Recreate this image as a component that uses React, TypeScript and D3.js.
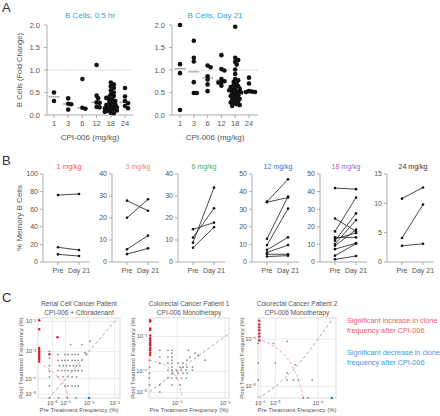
import React from "react";
import * as d3 from "d3";

const FONT = "'Liberation Sans', Arial, Helvetica, sans-serif";
const TEXT = "#555";
const AXIS = "#9a9a9a";

// ---------------- Panel A data ----------------
const doseLabels = ["1", "3", "6", "12", "18", "24"];
const aTitles = ["B Cells, 0.5 hr", "B Cells, Day 21"];
const aYTicks = [0, 0.5, 1.0, 1.5, 2.0];
const halfHrValues: number[][] = [
  [0.5, 0.31],
  [0.37, 0.25, 0.24, 0.12],
  [0.8, 0.14, 0.16],
  [1.11, 0.37, 0.43, 0.27, 0.28, 0.17, 0.18],
  [0.72, 0.68, 0.64, 0.6, 0.55, 0.5, 0.46, 0.42, 0.4, 0.38, 0.35, 0.33, 0.31, 0.28, 0.26, 0.24, 0.22, 0.2, 0.19, 0.17, 0.16, 0.15, 0.13, 0.12, 0.1, 0.09, 0.07, 0.05, 0.04],
  [0.6, 0.41, 0.31, 0.26, 0.2, 0.15],
];
const day21Values: number[][] = [
  [2.0, 1.13, 0.93, 0.11],
  [1.65, 1.27, 1.19, 0.73, 0.49, 0.49],
  [1.1, 1.06, 0.86, 0.79, 0.68, 0.53],
  [1.33, 1.02, 0.99, 0.8, 0.75, 0.73, 0.72, 0.65],
  [1.96, 1.27, 1.22, 1.18, 1.12, 1.01, 0.91, 0.8, 0.77, 0.74, 0.7, 0.67, 0.64, 0.62, 0.6, 0.58, 0.56, 0.55, 0.53, 0.52, 0.5, 0.48, 0.46, 0.44, 0.42, 0.4, 0.38, 0.36, 0.34, 0.32, 0.3, 0.28, 0.26, 0.24, 0.22, 0.2],
  [0.83, 0.7, 0.53, 0.51, 0.51, 0.52],
];

// ---------------- Panel B data ----------------
const bTitles = ["1 mg/kg", "3 mg/kg", "6 mg/kg", "12 mg/kg", "18 mg/kg", "24 mg/kg"];
const bColors = ["#f0506a", "#f58a55", "#3db34f", "#5165c8", "#ab5cc2", "#333333"];
const bYTicks: number[][] = [
  [0, 20, 40, 60, 80, 100],
  [0, 10, 20, 30, 40],
  [0, 10, 20, 30, 40],
  [0, 10, 20, 30, 40, 50],
  [0, 10, 20, 30, 40, 50],
  [0, 5, 10, 15],
];
const bTimepoints = ["Pre", "Day 21"];
const bPre: number[][] = [
  [76, 16.7, 8.7],
  [27.9, 20.1, 5.8, 3.6],
  [14.9, 11.1, 8.8, 6.5],
  [34.3, 34.0, 13.2, 9.6, 6.9, 5.4, 4.4, 3.1],
  [42, 24.7, 17.4, 14, 13.2, 12.1, 10.2, 9.2, 7.3, 3.6, 1.5],
  [10.8, 4.1, 2.76],
];
const bDay21: number[][] = [
  [77.3, 13.6, 6.8],
  [23.3, 28.5, 12, 6.2],
  [17.9, 24.4, 33.8, 15.8],
  [47, 36.6, 37.2, 30.3, 14, 9.6, 4.4, 3.6],
  [41.4, 17.4, 36.6, 14, 16.5, 27.6, 23.8, 18.4, 10.7, 10.4, 3.4],
  [12.7, 9.8, 3.1],
];

// ---------------- Panel C data ([pre, post] frequency, %) ----------------
const cTitles = [
  ["Renal Cell Cancer Patient", "CPI-006 + Ciforadenant"],
  ["Colorectal Cancer Patient 1", "CPI-006 Monotherapy"],
  ["Colorectal Cancer Patient 2", "CPI-006 Monotherapy"],
];
const cLegend = [
  ["Significant increase in clone", "frequency after CPI-006"],
  ["Significant decrease in clone", "frequency after CPI-006"],
];
type P = [number, number];
const renalStable: P[] = [
  [1e-6, 1.0e-3], [1e-6, 6e-4], [1e-6, 3.2e-4], [1e-6, 2e-4], [1e-6, 1.2e-4], [1e-6, 4.5e-5], [1e-6, 0],
  [3.6e-5, 7.9e-4], [9.2e-5, 7.9e-4], [1.3e-4, 7.9e-4], [2e-4, 7.9e-4], [2.7e-4, 7.9e-4], [3.6e-4, 7.9e-4],
  [3.6e-5, 4.9e-4], [6.4e-5, 4.9e-4], [9.2e-5, 4.9e-4], [1.3e-4, 4.9e-4], [2e-4, 4.9e-4], [2.7e-4, 4.9e-4], [3.6e-4, 4.9e-4], [5.2e-4, 4.9e-4],
  [4.5e-5, 3.2e-4], [7.5e-5, 3.2e-4], [1.1e-4, 3.2e-4], [1.6e-4, 3.2e-4], [2.3e-4, 3.2e-4], [3.1e-4, 3.2e-4], [4.3e-4, 3.2e-4],
  [3.6e-5, 2.1e-4], [6.4e-5, 2.1e-4], [9.2e-5, 2.1e-4], [1.3e-4, 2.1e-4], [2e-4, 2.1e-4], [2.7e-4, 2.1e-4], [3.6e-4, 2.1e-4], [5.2e-4, 2.1e-4],
  [3.6e-5, 1.2e-4], [7.5e-5, 1.2e-4], [1.3e-4, 1.2e-4], [2e-4, 1.2e-4], [3.1e-4, 1.2e-4],
  [9.2e-5, 4.5e-5], [1.3e-4, 4.5e-5], [2e-4, 4.5e-5], [2.7e-4, 4.5e-5], [3.6e-4, 4.5e-5],
  [1.7e-4, 1.7e-3], [5.2e-4, 1.7e-3], [1.1e-3, 2.2e-3], [7e-4, 9e-4], [8e-4, 8e-4],
  [4e-5, 0], [1.2e-4, 0], [3e-4, 0],
];
const renalIncrease: P[] = [
  [0, 1.1e-2], [0, 5.5e-3], [0, 1.3e-3], [0, 1.15e-3], [0, 1.0e-3], [0, 9e-4], [0, 8e-4], [0, 7e-4], [0, 6e-4], [0, 5.3e-4], [0, 4.5e-4],
  [3.3e-5, 3e-3], [1e-6, 8e-4],
];
const renalDecrease: P[] = [[1e-3, 0]];
const renalThreshold: P[] = [[-4.3e-5, 4.1e-4], [-6e-6, 2.7e-4], [2.1e-5, 1.6e-4], [4.9e-5, 9e-5], [9.2e-5, 4.5e-5], [1.16e-4, 1.7e-5], [1.2e-4, 0]];

const crc1Stable: P[] = [
  [3.3e-5, 4.2e-4], [5.8e-5, 4.2e-4], [7.4e-5, 4.2e-4], [1.8e-4, 4.2e-4],
  [7.4e-5, 3.5e-4], [2.5e-4, 3.5e-4],
  [3.3e-5, 2.7e-4], [5.8e-5, 2.7e-4], [7.4e-5, 2.7e-4], [1.94e-4, 2.7e-4], [2.9e-4, 3e-4],
  [7.4e-5, 2.2e-4], [1.67e-4, 2.2e-4], [4e-4, 2.2e-4],
  [3.3e-5, 1.8e-4], [5.8e-5, 1.8e-4], [7.4e-5, 1.8e-4], [1.04e-4, 1.8e-4], [1.36e-4, 1.8e-4],
  [7.4e-5, 1.36e-4], [1.16e-4, 1.36e-4], [1.36e-4, 1.36e-4], [1.67e-4, 1.36e-4], [2.2e-4, 1.36e-4],
  [5.8e-5, 1.1e-4], [7.4e-5, 1.1e-4], [9.5e-5, 1.1e-4], [1.25e-4, 1.1e-4], [1.6e-4, 1.1e-4], [2.2e-4, 1.1e-4],
  [7.4e-5, 8.7e-5], [1.04e-4, 8.7e-5], [1.36e-4, 8.7e-5], [1.7e-4, 8.7e-5],
  [5.8e-5, 5.8e-5], [7.4e-5, 5.8e-5], [9.5e-5, 5.8e-5], [1.25e-4, 5.8e-5], [1.6e-4, 5.8e-5],
  [3.3e-5, 3e-5], [7.4e-5, 3e-5], [1.16e-4, 3e-5], [3.3e-5, 1.1e-5],
  [1.2e-5, 2.2e-4], [1.2e-5, 1.36e-4], [1.2e-5, 8.7e-5], [1.2e-5, 5.8e-5], [1.2e-5, 3e-5],
];
const crc1Increase: P[] = [
  [0, 2.7e-3], [0, 2.5e-3], [0, 1.65e-3], [0, 1.5e-3], [0, 1.07e-3], [0, 9e-4], [0, 7.9e-4], [0, 7e-4],
  [0, 6.3e-4], [0, 5.8e-4], [0, 5e-4], [0, 4.6e-4], [0, 4.2e-4], [0, 3.6e-4], [0, 3.1e-4],
];
const crc1Decrease: P[] = [];
const crc1Threshold: P[] = [[1.1e-5, 2.2e-4], [2.6e-5, 1.9e-4], [4.8e-5, 1.57e-4], [7.9e-5, 9.4e-5], [1.04e-4, 4.9e-5], [1.2e-4, 1.5e-5], [1.3e-4, 0]];

const crc2Stable: P[] = [
  [1e-7, 8.7e-5], [1e-7, 4.2e-5], [1e-7, 1.7e-5], [8.5e-6, 8.7e-5], [2.2e-5, 9.3e-5], [1e-5, 4.2e-5],
  [2.2e-5, 2.6e-5], [3.4e-5, 3.9e-5], [2.2e-5, 1.7e-5], [3.1e-5, 1.7e-5], [4e-5, 1.7e-5], [7.7e-5, 1.7e-5],
  [5.1e-5, 0], [6.4e-5, 0],
];
const crc2Increase: P[] = [[0, 1.76e-4], [0, 1.57e-4], [0, 1.44e-4], [0, 1.32e-4], [0, 1.2e-4], [0, 1.09e-4], [0, 9.6e-5]];
const crc2Decrease: P[] = [[1.8e-4, 0]];
const crc2Threshold: P[] = [[0, 1.03e-4], [1e-5, 7.6e-5], [2.4e-5, 4.7e-5], [3.8e-5, 2.1e-5], [4.8e-5, 4.5e-6], [5.1e-5, 0]];

const cXTicks = [[1e-5, 1e-4, 1e-3, 1e-2], [1e-4, 1e-3], [1e-6, 1e-5, 1e-4]];
const cYTicks = [[1e-5, 1e-4, 1e-3, 1e-2], [1e-5, 1e-4, 1e-3], [1e-5, 1e-4]];

const cConfigs = [
  { L: 38, R: 120, xc: 3e-5, xDomain: [-5e-5, 1.6e-2], yc: 3e-5, yDomain: [0, 1.3e-2], yLabelX: 23,
    stable: renalStable, increase: renalIncrease, decrease: renalDecrease, threshold: renalThreshold },
  { L: 149, R: 229, xc: 2.5e-5, xDomain: [1.1e-5, 1.2e-3], yc: 2.5e-5, yDomain: [0, 3.1e-3], yLabelX: 135,
    stable: crc1Stable, increase: crc1Increase, decrease: crc1Decrease, threshold: crc1Threshold },
  { L: 258, R: 336, xc: 1e-5, xDomain: [0, 2.15e-4], yc: 3e-5, yDomain: [0, 1.9e-4], yLabelX: 244,
    stable: crc2Stable, increase: crc2Increase, decrease: crc2Decrease, threshold: crc2Threshold },
];

const SUP: Record<string, string> = { "-": "⁻", "0": "⁰", "1": "¹", "2": "²", "3": "³", "4": "⁴", "5": "⁵", "6": "⁶", "7": "⁷", "8": "⁸", "9": "⁹" };
function powLabel(v: number) {
  const e = String(Math.round(Math.log10(v)));
  return "10" + e.split("").map((c) => SUP[c]).join("");
}

function swarmOffsets(values: number[], yScale: (v: number) => number, r: number, step: number, maxOff: number) {
  const order = values.map((v, i) => ({ v, i })).sort((a, b) => b.v - a.v);
  const placed: { x: number; y: number }[] = [];
  const out: number[] = new Array(values.length).fill(0);
  const minDist = 2 * r * 0.62;
  for (const { v, i } of order) {
    const py = yScale(v);
    let best = 0;
    let bestScore = Infinity;
    for (let k = 0; k < 40; k++) {
      const cand = k === 0 ? 0 : (k % 2 === 1 ? 1 : -1) * Math.ceil(k / 2) * step;
      if (Math.abs(cand) > maxOff) break;
      const dmin = placed.reduce((m, p) => Math.min(m, Math.hypot(p.x - cand, p.y - py)), Infinity);
      if (dmin >= minDist) {
        best = cand;
        bestScore = -1;
        break;
      }
      const score = -dmin;
      if (score < bestScore) {
        bestScore = score;
        best = cand;
      }
    }
    placed.push({ x: best, y: py });
    out[i] = best;
  }
  return out;
}

function DotPlot({ values, axisX, x0, x1, axisEnd, title, yLabel }: any) {
  const y = d3.scaleLinear().domain([0, 2]).range([115, 25]);
  const x = d3.scalePoint<string>().domain(doseLabels).range([x0, x1]);
  const r = 2.3;
  return (
    <g>
      <text x={(axisX + axisEnd) / 2} y={18} textAnchor="middle" fontSize={8} fill="#3d9be0">{title}</text>
      {yLabel && (
        <text transform={`translate(22,${y(1)}) rotate(-90)`} textAnchor="middle" fontSize={7.5} fill={TEXT}>{yLabel}</text>
      )}
      <line x1={axisX} x2={axisEnd} y1={y(1)} y2={y(1)} stroke="#aaa" strokeWidth={0.7} strokeDasharray="1.2,1.2" />
      <line x1={axisX} x2={axisX} y1={y(0)} y2={y(2)} stroke={AXIS} strokeWidth={0.8} />
      <line x1={axisX} x2={axisEnd} y1={y(0)} y2={y(0)} stroke={AXIS} strokeWidth={0.8} />
      {aYTicks.map((t) => (
        <g key={t}>
          <line x1={axisX - 3} x2={axisX} y1={y(t)} y2={y(t)} stroke={AXIS} strokeWidth={0.8} />
          <text x={axisX - 7} y={y(t)} dy="0.35em" textAnchor="end" fontSize={7.5} fill={TEXT}>{t.toFixed(1)}</text>
        </g>
      ))}
      {doseLabels.map((d, i) => {
        const cx = x(d) as number;
        const vals: number[] = values[i];
        const offs = swarmOffsets(vals, y, r, 1.5, 7);
        const med = d3.median(vals) as number;
        return (
          <g key={d}>
            <line x1={cx} x2={cx} y1={y(0)} y2={y(0) + 3} stroke={AXIS} strokeWidth={0.8} />
            <text x={cx} y={y(0) + 11} textAnchor="middle" fontSize={7.5} fill={TEXT}>{d}</text>
            <line x1={cx - 5.5} x2={cx + 5.5} y1={y(med)} y2={y(med)} stroke="#9fb0aa" strokeWidth={1.3} />
            {vals.map((v, j) => (
              <circle key={j} cx={cx + offs[j]} cy={y(v)} r={r} fill="#111" />
            ))}
          </g>
        );
      })}
      <text x={(axisX + axisEnd) / 2} y={140} textAnchor="middle" fontSize={8} fill={TEXT}>CPI-006 (mg/kg)</text>
    </g>
  );
}

const bAxisX = [43, 112, 178, 252, 320, 387];

function PairPlot({ i }: { i: number }) {
  const ax = bAxisX[i];
  const ticks = bYTicks[i];
  const y = d3.scaleLinear().domain([0, ticks[ticks.length - 1]]).range([262, 174]);
  const x = d3.scalePoint<string>().domain(bTimepoints).range([ax + 15, ax + 36]);
  const pre = bPre[i];
  const post = bDay21[i];
  return (
    <g>
      <text x={ax + 26} y={169} textAnchor="middle" fontSize={7} fill={bColors[i]}>{bTitles[i]}</text>
      <line x1={ax} x2={ax} y1={y(0)} y2={174} stroke={AXIS} strokeWidth={0.8} />
      <line x1={ax} x2={ax + 47} y1={y(0)} y2={y(0)} stroke={AXIS} strokeWidth={0.8} />
      {ticks.map((t) => (
        <g key={t}>
          <line x1={ax - 3} x2={ax} y1={y(t)} y2={y(t)} stroke={AXIS} strokeWidth={0.8} />
          <text x={ax - 5} y={y(t)} dy="0.35em" textAnchor="end" fontSize={7} fill={TEXT}>{t}</text>
        </g>
      ))}
      {bTimepoints.map((t) => (
        <g key={t}>
          <line x1={x(t)} x2={x(t)} y1={y(0)} y2={y(0) + 3} stroke={AXIS} strokeWidth={0.8} />
          <text x={x(t)} y={y(0) + 11} textAnchor="middle" fontSize={7} fill={TEXT}>{t}</text>
        </g>
      ))}
      {pre.map((v, j) => (
        <g key={j}>
          <line x1={x("Pre")} x2={x("Day 21")} y1={y(v)} y2={y(post[j])} stroke="#333" strokeWidth={0.9} />
          <circle cx={x("Pre")} cy={y(v)} r={1.3} fill="#111" />
          <circle cx={x("Day 21")} cy={y(post[j])} r={1.3} fill="#111" />
        </g>
      ))}
    </g>
  );
}

function ClonePlot({ i }: { i: number }) {
  const cfg = cConfigs[i];
  const T = 318, B = 398;
  const { L, R } = cfg;
  const x = d3.scaleSymlog().constant(cfg.xc).domain(cfg.xDomain).range([L, R]);
  const y = d3.scaleSymlog().constant(cfg.yc).domain(cfg.yDomain).range([B, T]);
  const diag: P[] = [[0, 0] as P].concat(d3.range(-7, -1.5, 0.05).map((e) => [Math.pow(10, e), Math.pow(10, e)] as P));
  const diagLine = d3.line<P>().x((d) => x(d[0])).y((d) => y(d[1]));
  const thrLine = d3.line<P>().x((d) => x(d[0])).y((d) => y(d[1])).curve(d3.curveCatmullRom);
  const px = (d: P) => (d[0] === 0 ? L + 1.2 : x(d[0]));
  const clipId = `clip-c${i}`;
  return (
    <g>
      <defs>
        <clipPath id={clipId}>
          <rect x={L} y={T} width={R - L} height={B - T} />
        </clipPath>
      </defs>
      <text x={(L + R) / 2} y={306} textAnchor="middle" fontSize={6.6} fill={TEXT}>{cTitles[i][0]}</text>
      <text x={(L + R) / 2} y={314.5} textAnchor="middle" fontSize={6.6} fill={TEXT}>{cTitles[i][1]}</text>
      {cXTicks[i].map((t) => (
        <line key={t} x1={x(t)} x2={x(t)} y1={T} y2={B} stroke="#e2e2e2" strokeWidth={0.7} />
      ))}
      {cYTicks[i].map((t) => (
        <line key={t} x1={L} x2={R} y1={y(t)} y2={y(t)} stroke="#e2e2e2" strokeWidth={0.7} />
      ))}
      <rect x={L} y={T} width={R - L} height={B - T} fill="none" stroke="#cfcfcf" strokeWidth={0.7} />
      <g clipPath={`url(#${clipId})`}>
        <path d={diagLine(diag) as string} fill="none" stroke="#8a8a8a" strokeWidth={0.8} strokeDasharray="3,2.5" />
        <path d={thrLine(cfg.threshold) as string} fill="none" stroke="#f2a0a8" strokeWidth={0.9} strokeDasharray="3,2" />
      </g>
      {cfg.stable.map((d, j) => (
        <circle key={`s${j}`} cx={x(d[0])} cy={y(d[1])} r={0.9} fill="#8a8a8a" />
      ))}
      {cfg.increase.map((d, j) => (
        <circle key={`i${j}`} cx={px(d)} cy={y(d[1])} r={1.2} fill="#d41f2a" />
      ))}
      {cfg.decrease.map((d, j) => (
        <circle key={`d${j}`} cx={px(d)} cy={y(d[1])} r={1.3} fill="#2e7fd6" />
      ))}
      {cXTicks[i].map((t) => (
        <text key={t} x={x(t)} y={404.5} textAnchor="middle" fontSize={5.6} fill={TEXT}>{powLabel(t)}</text>
      ))}
      {cYTicks[i].map((t) => (
        <text key={t} x={L - 2} y={y(t)} dy="0.35em" textAnchor="end" fontSize={5.6} fill={TEXT}>{powLabel(t)}</text>
      ))}
      <text transform={`translate(${cfg.yLabelX},${(T + B) / 2}) rotate(-90)`} textAnchor="middle" fontSize={6} fill={TEXT}>Post Treatment Frequency (%)</text>
      <text x={(L + R) / 2} y={412} textAnchor="middle" fontSize={6} fill={TEXT}>Pre Treatment Frequency (%)</text>
    </g>
  );
}

export default function App() {
  return (
    <svg
      width={440}
      height={416}
      viewBox="0 0 440 416"
      style={{ position: "absolute", left: 0, top: 0, display: "block", background: "#fff" }}
      fontFamily={FONT}
    >
      <rect width={440} height={416} fill="#fff" />
      <text x={2} y={12} fontSize={13} fill="#333">A</text>
      <text x={2} y={165} fontSize={13} fill="#333">B</text>
      <text x={2} y={302} fontSize={13} fill="#333">C</text>

      <DotPlot values={halfHrValues} axisX={47} x0={54} x1={125} axisEnd={133} title={aTitles[0]} yLabel="B Cells (Fold Change)" />
      <DotPlot values={day21Values} axisX={172} x0={180} x1={249} axisEnd={258} title={aTitles[1]} />

      <text transform="translate(22,218) rotate(-90)" textAnchor="middle" fontSize={8} fill={TEXT}>% Memory B Cells</text>
      {bTitles.map((_, i) => (
        <PairPlot key={i} i={i} />
      ))}

      {cConfigs.map((_, i) => (
        <ClonePlot key={i} i={i} />
      ))}
      <text x={347} y={323} fontSize={7.3} fill="#f05a6a">{cLegend[0][0]}</text>
      <text x={347} y={333} fontSize={7.3} fill="#f05a6a">{cLegend[0][1]}</text>
      <text x={347} y={355} fontSize={7.3} fill="#3d9be0">{cLegend[1][0]}</text>
      <text x={347} y={365} fontSize={7.3} fill="#3d9be0">{cLegend[1][1]}</text>
    </svg>
  );
}
